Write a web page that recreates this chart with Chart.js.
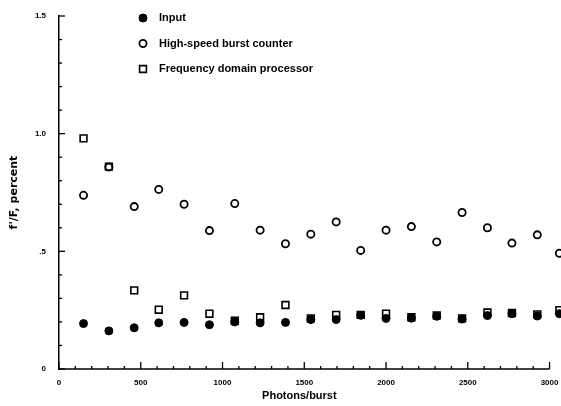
<!DOCTYPE html>
<html><head><meta charset="utf-8">
<script src="https://cdn.jsdelivr.net/npm/chart.js@4/dist/chart.umd.min.js"></script>
<style>html,body{margin:0;padding:0;background:#fff;}#wrap{position:relative;width:561px;height:406px;}</style>
</head><body><div id="wrap"><canvas id="c" width="561" height="406"></canvas></div>
<script>
const photons = [150, 305, 460, 610, 765, 920, 1075, 1230, 1385, 1540, 1695, 1845, 2000, 2155, 2310, 2465, 2620, 2770, 2925, 3060];
const inputVals = [0.193, 0.162, 0.175, 0.196, 0.198, 0.188, 0.200, 0.196, 0.198, 0.210, 0.210, 0.228, 0.215, 0.216, 0.224, 0.212, 0.227, 0.235, 0.225, 0.235];
const burstCounterVals = [0.738, 0.858, 0.690, 0.763, 0.700, 0.588, 0.703, 0.590, 0.532, 0.573, 0.625, 0.504, 0.590, 0.605, 0.540, 0.665, 0.600, 0.535, 0.570, 0.492];
const freqDomainVals = [0.980, 0.860, 0.334, 0.252, 0.313, 0.235, 0.205, 0.220, 0.272, 0.215, 0.230, 0.230, 0.235, 0.220, 0.228, 0.215, 0.240, 0.238, 0.232, 0.250];
const seriesNames = ['Input', 'High-speed burst counter', 'Frequency domain processor'];
const xTickLabels = ['0', '500', '1000', '1500', '2000', '2500', '3000'];
const yTickLabels = ['0', '.5', '1.0', '1.5'];
const xTitle = 'Photons/burst';
const yTitle = "f'/F, percent";
const xAxisEnd = 3000;
const xTitleAt = 1470;

const toPts = vals => photons.map((x, i) => ({x: x, y: vals[i]}));
const TXT = '#000';
const tickFont = {family: 'Liberation Sans', size: 8, weight: 'bold'};

const axisDecor = {
  id: 'axisDecor',
  afterDraw(chart) {
    const ctx = chart.ctx, xs = chart.scales.x, ys = chart.scales.y, a = chart.chartArea;
    ctx.save();
    ctx.strokeStyle = '#000';
    ctx.lineWidth = 1.5;
    ctx.beginPath(); ctx.moveTo(a.left, a.bottom); ctx.lineTo(xs.getPixelForValue(xAxisEnd), a.bottom); ctx.stroke();
    ctx.lineWidth = 1.3;
    for (let i = 0; i <= 15; i++) {
      const v = i / 10, y = ys.getPixelForValue(v);
      const len = (i % 5 === 0) ? 6 : 3;
      ctx.beginPath(); ctx.moveTo(a.left, y); ctx.lineTo(a.left + len, y); ctx.stroke();
    }
    for (let i = 0; i <= 30; i++) {
      const v = i * 100, x = xs.getPixelForValue(v);
      const len = (i % 5 === 0) ? 7 : 3;
      ctx.beginPath(); ctx.moveTo(x, a.bottom); ctx.lineTo(x, a.bottom - len); ctx.stroke();
    }
    ctx.font = 'bold 8px "Liberation Sans"';
    ctx.fillStyle = TXT;
    ctx.textAlign = 'center';
    ctx.textBaseline = 'middle';
    xTickLabels.forEach(l => {
      ctx.fillText(l, xs.getPixelForValue(Number(l)), a.bottom + 14);
    });
    ctx.font = 'bold 11px "Liberation Sans"';
    ctx.fillText(xTitle, xs.getPixelForValue(xTitleAt), a.bottom + 27);
    ctx.restore();
  }
};

const legendPlugin = {
  id: 'customLegend',
  afterDraw(chart) {
    const ctx = chart.ctx;
    const rows = [18, 43.5, 69];
    const mx = 143, tx = 159;
    ctx.save();
    ctx.textBaseline = 'middle';
    ctx.textAlign = 'left';
    chart.data.datasets.forEach((ds, i) => {
      const y = rows[i];
      ctx.lineWidth = ds.pointBorderWidth;
      ctx.strokeStyle = '#000';
      ctx.fillStyle = ds.pointBackgroundColor;
      Chart.helpers.drawPoint(ctx, {pointStyle: ds.pointStyle, radius: ds.pointRadius, borderWidth: ds.pointBorderWidth}, mx, y);
      ctx.font = 'bold 11px "Liberation Sans"';
      ctx.fillStyle = TXT;
      ctx.fillText(ds.label, tx, y);
    });
    ctx.restore();
  }
};

new Chart(document.getElementById('c'), {
  type: 'scatter',
  data: {
    datasets: [
      {label: seriesNames[0], data: toPts(inputVals), pointStyle: 'circle', pointRadius: 4,
       pointBackgroundColor: '#000', pointBorderColor: '#000', borderWidth: 1, pointBorderWidth: 1, clip: false},
      {label: seriesNames[1], data: toPts(burstCounterVals), pointStyle: 'circle', pointRadius: 3.6,
       pointBackgroundColor: 'rgba(0,0,0,0)', pointBorderColor: '#000', borderWidth: 1.8, pointBorderWidth: 1.8, clip: false},
      {label: seriesNames[2], data: toPts(freqDomainVals), pointStyle: 'rect', pointRadius: 4.8,
       pointBackgroundColor: 'rgba(0,0,0,0)', pointBorderColor: '#000', borderWidth: 1.6, pointBorderWidth: 1.6, clip: false}
    ]
  },
  options: {
    responsive: false,
    animation: false,
    devicePixelRatio: 1,
    layout: {autoPadding: false, padding: {left: 0, top: 16, right: 0, bottom: 0}},
    plugins: {legend: {display: false}, tooltip: {enabled: false}},
    scales: {
      x: {
        type: 'linear', min: 0, max: 3070,
        afterBuildTicks: s => { s.ticks = xTickLabels.map(l => ({value: Number(l)})); },
        afterFit: s => { s.height = 37; },
        grid: {display: false, drawTicks: false},
        border: {display: false},
        ticks: {display: false},
        title: {display: false}
      },
      y: {
        type: 'linear', min: 0, max: 1.5,
        afterBuildTicks: s => { s.ticks = yTickLabels.map(l => ({value: Number(l)})); },
        afterFit: s => { s.width = 59; },
        grid: {display: false, drawTicks: true, tickLength: 13},
        border: {display: true, color: '#000', width: 1.5},
        ticks: {color: TXT, font: tickFont, padding: 0,
                callback: v => yTickLabels.find(l => Number(l) === v)},
        title: {display: true, text: yTitle, color: TXT,
                font: {family: 'DejaVu Sans', size: 11, weight: 'bold'}, padding: {top: 8, bottom: 0}}
      }
    }
  },
  plugins: [axisDecor, legendPlugin]
});
</script></body></html>
